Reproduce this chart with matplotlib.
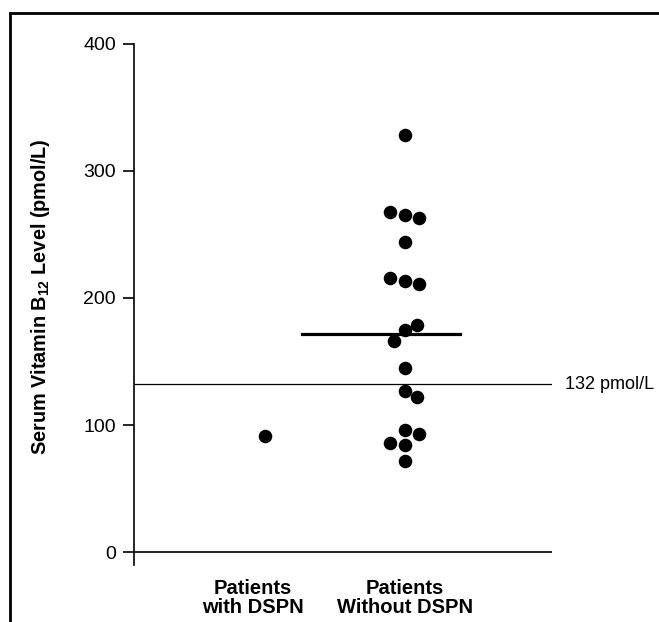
import matplotlib.pyplot as plt
from matplotlib.lines import Line2D

plt.rcParams['font.family'] = ['Liberation Sans', 'DejaVu Sans']
plt.rcParams['mathtext.fontset'] = 'custom'
plt.rcParams['mathtext.bf'] = 'Liberation Sans:bold'
plt.rcParams['mathtext.rm'] = 'Liberation Sans'

# Data
groups = ['Patients\nwith DSPN', 'Patients\nWithout DSPN']
with_dspn = [91]
with_dspn_offset = [0.08]
without_dspn = [328, 268, 265, 263, 244, 216, 213, 211, 179, 175, 166,
                145, 127, 122, 96, 93, 86, 84, 72]
without_offset = [0, -0.1, 0, 0.09, 0, -0.1, 0, 0.09, 0.08, 0, -0.07,
                  0, 0, 0.08, 0, 0.09, -0.1, 0, 0]
median_without = 172
cutoff = 132
yticks = [0, 100, 200, 300, 400]

fig = plt.figure(figsize=(6.59, 6.22), dpi=100)
ax = fig.add_axes([0.2033, 0.0921, 0.6343, 0.8372])

ax.scatter([1 + o for o in with_dspn_offset], with_dspn, s=95, color='black', zorder=3, linewidths=0)
ax.scatter([2 + o for o in without_offset], without_dspn, s=95, color='black', zorder=3, linewidths=0)

ax.plot([1.32, 2.36], [median_without, median_without], color='black', lw=2.3)
ax.axhline(cutoff, color='black', lw=0.9)
ax.axhline(0, color='black', lw=1.2)
ax.text(3.05, cutoff, '132 pmol/L', va='center', ha='left', fontsize=13)

ax.set_xlim(0.217, 2.967)
ax.set_ylim(-10, 400)
ax.set_yticks(yticks)
ax.set_yticklabels([str(t) for t in yticks], fontsize=14)
ax.set_xticks([1, 2])
ax.set_xticklabels(groups, fontsize=14.5, fontweight='bold', linespacing=1.02)
ax.tick_params(axis='x', length=0, pad=10)
ax.tick_params(axis='y', direction='out', length=8, width=1.2, pad=5)
for s in ['top', 'right', 'bottom']:
    ax.spines[s].set_visible(False)
ax.spines['left'].set_linewidth(1.2)

ax.set_ylabel(r'Serum Vitamin B$_{\mathbf{12}}$ Level (pmol/L)', fontsize=14.3,
              fontweight='bold')
ax.yaxis.set_label_coords(-0.195, 0.514)

# frame around the figure
fig.add_artist(Line2D([10 / 659, 1], [1 - 13 / 622] * 2, color='black', lw=2))
fig.add_artist(Line2D([10 / 659] * 2, [0, 1 - 13 / 622], color='black', lw=2))

fig.savefig('out.png', dpi=100)
